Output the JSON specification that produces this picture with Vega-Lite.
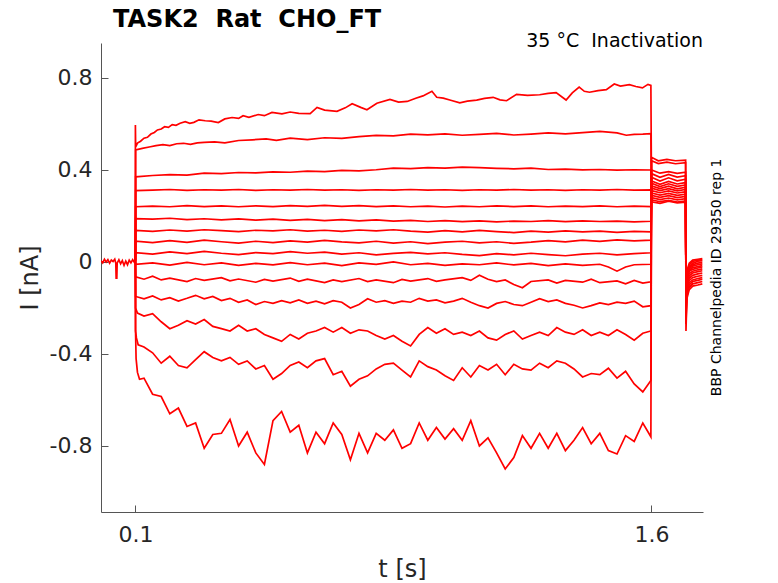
{
  "$schema": "https://vega.github.io/schema/vega-lite/v6.json",
  "width": 602,
  "height": 469,
  "autosize": {"type": "none"},
  "padding": {"left": 101, "top": 43, "right": 75, "bottom": 71},
  "background": "white",
  "config": {
    "view": {"stroke": null},
    "font": "DejaVu Sans",
    "axis": {
      "grid": false,
      "domainColor": "#555555",
      "tickColor": "#555555",
      "tickSize": -7,
      "labelFont": "DejaVu Sans",
      "labelFontSize": 22,
      "labelColor": "#262626",
      "titleFont": "DejaVu Sans",
      "titleFontSize": 24,
      "titleFontWeight": "normal",
      "titleColor": "#262626"
    }
  },
  "encoding": {
    "x": {
      "field": "t",
      "type": "quantitative",
      "scale": {"domain": [0, 1.75], "nice": false, "zero": false},
      "axis": {
        "values": [0.1, 1.6],
        "format": ".1f",
        "labelPadding": 19,
        "title": "t [s]",
        "titleBaseline": "alphabetic",
        "titleY": 64
      }
    },
    "y": {
      "field": "i",
      "type": "quantitative",
      "scale": {"domain": [-1.087, 0.952], "nice": false, "zero": false},
      "axis": {
        "values": [-0.8, -0.4, 0, 0.4, 0.8],
        "labelExpr": "datum.value == 0 ? '0' : replace(format(datum.value, '.1f'), '−', '-')",
        "labelPadding": 16,
        "title": "I [nA]",
        "titleBaseline": "alphabetic",
        "titleX": -64
      }
    }
  },
  "layer": [
    {
      "data": {"values": [
        {"s":0,"t":0,"i":0.005},{"s":0,"t":0.005,"i":-0.004},{"s":0,"t":0.01,"i":0.012},{"s":0,"t":0.015,"i":0.0},{"s":0,"t":0.02,"i":0.01},{"s":0,"t":0.025,"i":-0.005},{"s":0,"t":0.03,"i":0.008},{"s":0,"t":0.035,"i":0.002},{"s":0,"t":0.04,"i":0.012},{"s":0,"t":0.043,"i":-0.005},{"s":0,"t":0.044,"i":-0.07},{"s":0,"t":0.046,"i":-0.07},{"s":0,"t":0.047,"i":-0.005},{"s":0,"t":0.052,"i":0.01},{"s":0,"t":0.057,"i":-0.008},{"s":0,"t":0.062,"i":0.006},{"s":0,"t":0.067,"i":-0.015},{"s":0,"t":0.072,"i":0.004},{"s":0,"t":0.077,"i":-0.012},{"s":0,"t":0.082,"i":0.008},{"s":0,"t":0.087,"i":-0.004},{"s":0,"t":0.092,"i":0.01},{"s":0,"t":0.097,"i":-0.002},{"s":0,"t":0.1,"i":0.005},

        {"s":1,"t":0.1,"i":0.005},{"s":1,"t":0.1,"i":0.595},{"s":1,"t":0.1008,"i":0.5},{"s":1,"t":0.106,"i":0.517},{"s":1,"t":0.115,"i":0.525},{"s":1,"t":0.125,"i":0.538},{"s":1,"t":0.135,"i":0.542},{"s":1,"t":0.145,"i":0.556},{"s":1,"t":0.155,"i":0.563},{"s":1,"t":0.164,"i":0.574},{"s":1,"t":0.175,"i":0.578},{"s":1,"t":0.185,"i":0.588},{"s":1,"t":0.196,"i":0.585},{"s":1,"t":0.207,"i":0.597},{"s":1,"t":0.218,"i":0.594},{"s":1,"t":0.23,"i":0.603},{"s":1,"t":0.245,"i":0.61},{"s":1,"t":0.258,"i":0.603},{"s":1,"t":0.27,"i":0.607},{"s":1,"t":0.285,"i":0.618},{"s":1,"t":0.303,"i":0.614},{"s":1,"t":0.32,"i":0.612},{"s":1,"t":0.341,"i":0.606},{"s":1,"t":0.36,"i":0.622},{"s":1,"t":0.381,"i":0.628},{"s":1,"t":0.4,"i":0.624},{"s":1,"t":0.413,"i":0.636},{"s":1,"t":0.43,"i":0.629},{"s":1,"t":0.457,"i":0.641},{"s":1,"t":0.475,"i":0.636},{"s":1,"t":0.497,"i":0.65},{"s":1,"t":0.526,"i":0.644},{"s":1,"t":0.55,"i":0.652},{"s":1,"t":0.575,"i":0.646},{"s":1,"t":0.608,"i":0.645},{"s":1,"t":0.628,"i":0.672},{"s":1,"t":0.65,"i":0.66},{"s":1,"t":0.686,"i":0.655},{"s":1,"t":0.71,"i":0.67},{"s":1,"t":0.73,"i":0.688},{"s":1,"t":0.755,"i":0.672},{"s":1,"t":0.773,"i":0.662},{"s":1,"t":0.802,"i":0.69},{"s":1,"t":0.84,"i":0.707},{"s":1,"t":0.865,"i":0.695},{"s":1,"t":0.89,"i":0.698},{"s":1,"t":0.915,"i":0.712},{"s":1,"t":0.936,"i":0.722},{"s":1,"t":0.962,"i":0.742},{"s":1,"t":0.976,"i":0.716},{"s":1,"t":0.995,"i":0.712},{"s":1,"t":1.014,"i":0.704},{"s":1,"t":1.043,"i":0.692},{"s":1,"t":1.065,"i":0.699},{"s":1,"t":1.092,"i":0.704},{"s":1,"t":1.115,"i":0.711},{"s":1,"t":1.14,"i":0.716},{"s":1,"t":1.16,"i":0.705},{"s":1,"t":1.179,"i":0.701},{"s":1,"t":1.208,"i":0.729},{"s":1,"t":1.24,"i":0.724},{"s":1,"t":1.275,"i":0.727},{"s":1,"t":1.3,"i":0.733},{"s":1,"t":1.323,"i":0.736},{"s":1,"t":1.352,"i":0.704},{"s":1,"t":1.37,"i":0.735},{"s":1,"t":1.39,"i":0.76},{"s":1,"t":1.405,"i":0.742},{"s":1,"t":1.42,"i":0.738},{"s":1,"t":1.445,"i":0.745},{"s":1,"t":1.469,"i":0.749},{"s":1,"t":1.492,"i":0.774},{"s":1,"t":1.51,"i":0.765},{"s":1,"t":1.536,"i":0.771},{"s":1,"t":1.555,"i":0.763},{"s":1,"t":1.574,"i":0.757},{"s":1,"t":1.59,"i":0.772},{"s":1,"t":1.5985,"i":0.768},
        {"s":1,"t":1.6005,"i":0.262},{"s":1,"t":1.625,"i":0.255},{"s":1,"t":1.65,"i":0.264},{"s":1,"t":1.675,"i":0.257},{"s":1,"t":1.6995,"i":0.26},
        {"s":1,"t":1.7005,"i":-0.09},{"s":1,"t":1.703,"i":-0.04},{"s":1,"t":1.71,"i":-0.005},{"s":1,"t":1.72,"i":0.008},{"s":1,"t":1.735,"i":0.012},{"s":1,"t":1.748,"i":0.015},

        {"s":2,"t":0.1,"i":0.005},{"s":2,"t":0.1008,"i":0.487},{"s":2,"t":0.12,"i":0.494},{"s":2,"t":0.14,"i":0.5},{"s":2,"t":0.16,"i":0.506},{"s":2,"t":0.18,"i":0.51},{"s":2,"t":0.2,"i":0.506},{"s":2,"t":0.22,"i":0.514},{"s":2,"t":0.24,"i":0.516},{"s":2,"t":0.26,"i":0.511},{"s":2,"t":0.28,"i":0.518},{"s":2,"t":0.3,"i":0.52},{"s":2,"t":0.33,"i":0.522},{"s":2,"t":0.36,"i":0.518},{"s":2,"t":0.4,"i":0.528},{"s":2,"t":0.44,"i":0.531},{"s":2,"t":0.48,"i":0.535},{"s":2,"t":0.51,"i":0.529},{"s":2,"t":0.55,"i":0.538},{"s":2,"t":0.6,"i":0.532},{"s":2,"t":0.65,"i":0.54},{"s":2,"t":0.7,"i":0.537},{"s":2,"t":0.75,"i":0.545},{"s":2,"t":0.8,"i":0.55},{"s":2,"t":0.85,"i":0.548},{"s":2,"t":0.9,"i":0.556},{"s":2,"t":0.95,"i":0.553},{"s":2,"t":1.0,"i":0.557},{"s":2,"t":1.05,"i":0.551},{"s":2,"t":1.1,"i":0.555},{"s":2,"t":1.15,"i":0.559},{"s":2,"t":1.2,"i":0.552},{"s":2,"t":1.25,"i":0.556},{"s":2,"t":1.3,"i":0.561},{"s":2,"t":1.35,"i":0.557},{"s":2,"t":1.4,"i":0.562},{"s":2,"t":1.45,"i":0.568},{"s":2,"t":1.5,"i":0.561},{"s":2,"t":1.527,"i":0.551},{"s":2,"t":1.55,"i":0.555},{"s":2,"t":1.575,"i":0.556},{"s":2,"t":1.5985,"i":0.558},
        {"s":2,"t":1.6005,"i":0.27},{"s":2,"t":1.625,"i":0.262},{"s":2,"t":1.65,"i":0.268},{"s":2,"t":1.675,"i":0.26},{"s":2,"t":1.6995,"i":0.265},
        {"s":2,"t":1.7005,"i":-0.1},{"s":2,"t":1.703,"i":-0.05},{"s":2,"t":1.71,"i":-0.012},{"s":2,"t":1.72,"i":0.002},{"s":2,"t":1.735,"i":0.008},{"s":2,"t":1.748,"i":0.01},

        {"s":3,"t":0.1,"i":0.005},{"s":3,"t":0.1008,"i":0.37},{"s":3,"t":0.15,"i":0.376},{"s":3,"t":0.2,"i":0.38},{"s":3,"t":0.25,"i":0.378},{"s":3,"t":0.3,"i":0.386},{"s":3,"t":0.35,"i":0.384},{"s":3,"t":0.4,"i":0.389},{"s":3,"t":0.45,"i":0.387},{"s":3,"t":0.5,"i":0.392},{"s":3,"t":0.55,"i":0.39},{"s":3,"t":0.6,"i":0.395},{"s":3,"t":0.65,"i":0.393},{"s":3,"t":0.7,"i":0.398},{"s":3,"t":0.75,"i":0.396},{"s":3,"t":0.8,"i":0.401},{"s":3,"t":0.85,"i":0.408},{"s":3,"t":0.9,"i":0.406},{"s":3,"t":0.95,"i":0.41},{"s":3,"t":1.0,"i":0.408},{"s":3,"t":1.05,"i":0.412},{"s":3,"t":1.1,"i":0.41},{"s":3,"t":1.15,"i":0.407},{"s":3,"t":1.2,"i":0.405},{"s":3,"t":1.25,"i":0.408},{"s":3,"t":1.3,"i":0.402},{"s":3,"t":1.35,"i":0.404},{"s":3,"t":1.4,"i":0.4},{"s":3,"t":1.45,"i":0.402},{"s":3,"t":1.5,"i":0.399},{"s":3,"t":1.55,"i":0.401},{"s":3,"t":1.5985,"i":0.4},
        {"s":3,"t":1.6005,"i":0.28},{"s":3,"t":1.625,"i":0.271},{"s":3,"t":1.65,"i":0.278},{"s":3,"t":1.675,"i":0.27},{"s":3,"t":1.6995,"i":0.275},
        {"s":3,"t":1.7005,"i":-0.11},{"s":3,"t":1.703,"i":-0.058},{"s":3,"t":1.71,"i":-0.02},{"s":3,"t":1.72,"i":-0.006},{"s":3,"t":1.735,"i":0.003},{"s":3,"t":1.748,"i":0.006},

        {"s":4,"t":0.1,"i":0.005},{"s":4,"t":0.1008,"i":0.31},{"s":4,"t":0.15,"i":0.312},{"s":4,"t":0.2,"i":0.315},{"s":4,"t":0.25,"i":0.311},{"s":4,"t":0.3,"i":0.314},{"s":4,"t":0.35,"i":0.312},{"s":4,"t":0.4,"i":0.315},{"s":4,"t":0.45,"i":0.311},{"s":4,"t":0.5,"i":0.314},{"s":4,"t":0.55,"i":0.312},{"s":4,"t":0.6,"i":0.315},{"s":4,"t":0.65,"i":0.312},{"s":4,"t":0.7,"i":0.314},{"s":4,"t":0.75,"i":0.311},{"s":4,"t":0.8,"i":0.314},{"s":4,"t":0.85,"i":0.312},{"s":4,"t":0.9,"i":0.315},{"s":4,"t":0.95,"i":0.312},{"s":4,"t":1.0,"i":0.314},{"s":4,"t":1.05,"i":0.311},{"s":4,"t":1.1,"i":0.314},{"s":4,"t":1.15,"i":0.312},{"s":4,"t":1.2,"i":0.315},{"s":4,"t":1.25,"i":0.312},{"s":4,"t":1.3,"i":0.314},{"s":4,"t":1.35,"i":0.311},{"s":4,"t":1.4,"i":0.314},{"s":4,"t":1.45,"i":0.312},{"s":4,"t":1.5,"i":0.315},{"s":4,"t":1.55,"i":0.312},{"s":4,"t":1.5985,"i":0.313},
        {"s":4,"t":1.6005,"i":0.29},{"s":4,"t":1.625,"i":0.281},{"s":4,"t":1.65,"i":0.288},{"s":4,"t":1.675,"i":0.28},{"s":4,"t":1.6995,"i":0.285},
        {"s":4,"t":1.7005,"i":-0.12},{"s":4,"t":1.703,"i":-0.065},{"s":4,"t":1.71,"i":-0.025},{"s":4,"t":1.72,"i":-0.012},{"s":4,"t":1.735,"i":-0.005},{"s":4,"t":1.748,"i":-0.002},

        {"s":5,"t":0.1,"i":0.005},{"s":5,"t":0.1008,"i":0.24},{"s":5,"t":0.15,"i":0.243},{"s":5,"t":0.2,"i":0.24},{"s":5,"t":0.25,"i":0.245},{"s":5,"t":0.3,"i":0.241},{"s":5,"t":0.35,"i":0.244},{"s":5,"t":0.4,"i":0.24},{"s":5,"t":0.45,"i":0.244},{"s":5,"t":0.5,"i":0.241},{"s":5,"t":0.55,"i":0.245},{"s":5,"t":0.6,"i":0.242},{"s":5,"t":0.65,"i":0.246},{"s":5,"t":0.7,"i":0.242},{"s":5,"t":0.75,"i":0.245},{"s":5,"t":0.8,"i":0.241},{"s":5,"t":0.85,"i":0.244},{"s":5,"t":0.9,"i":0.24},{"s":5,"t":0.95,"i":0.243},{"s":5,"t":1.0,"i":0.239},{"s":5,"t":1.05,"i":0.243},{"s":5,"t":1.1,"i":0.24},{"s":5,"t":1.15,"i":0.244},{"s":5,"t":1.2,"i":0.241},{"s":5,"t":1.25,"i":0.244},{"s":5,"t":1.3,"i":0.24},{"s":5,"t":1.35,"i":0.243},{"s":5,"t":1.4,"i":0.241},{"s":5,"t":1.45,"i":0.244},{"s":5,"t":1.5,"i":0.24},{"s":5,"t":1.55,"i":0.243},{"s":5,"t":1.5985,"i":0.241},
        {"s":5,"t":1.6005,"i":0.3},{"s":5,"t":1.625,"i":0.291},{"s":5,"t":1.65,"i":0.298},{"s":5,"t":1.675,"i":0.29},{"s":5,"t":1.6995,"i":0.295},
        {"s":5,"t":1.7005,"i":-0.13},{"s":5,"t":1.703,"i":-0.07},{"s":5,"t":1.71,"i":-0.03},{"s":5,"t":1.72,"i":-0.018},{"s":5,"t":1.735,"i":-0.012},{"s":5,"t":1.748,"i":-0.008},

        {"s":6,"t":0.1,"i":0.005},{"s":6,"t":0.1008,"i":0.188},{"s":6,"t":0.15,"i":0.186},{"s":6,"t":0.2,"i":0.19},{"s":6,"t":0.25,"i":0.184},{"s":6,"t":0.3,"i":0.188},{"s":6,"t":0.35,"i":0.183},{"s":6,"t":0.4,"i":0.187},{"s":6,"t":0.45,"i":0.182},{"s":6,"t":0.5,"i":0.186},{"s":6,"t":0.55,"i":0.181},{"s":6,"t":0.6,"i":0.185},{"s":6,"t":0.65,"i":0.18},{"s":6,"t":0.7,"i":0.184},{"s":6,"t":0.75,"i":0.179},{"s":6,"t":0.8,"i":0.183},{"s":6,"t":0.85,"i":0.178},{"s":6,"t":0.9,"i":0.181},{"s":6,"t":0.95,"i":0.176},{"s":6,"t":1.0,"i":0.18},{"s":6,"t":1.05,"i":0.175},{"s":6,"t":1.1,"i":0.179},{"s":6,"t":1.15,"i":0.174},{"s":6,"t":1.2,"i":0.178},{"s":6,"t":1.25,"i":0.176},{"s":6,"t":1.3,"i":0.18},{"s":6,"t":1.35,"i":0.175},{"s":6,"t":1.4,"i":0.179},{"s":6,"t":1.45,"i":0.176},{"s":6,"t":1.5,"i":0.178},{"s":6,"t":1.55,"i":0.174},{"s":6,"t":1.5985,"i":0.177},
        {"s":6,"t":1.6005,"i":0.31},{"s":6,"t":1.625,"i":0.301},{"s":6,"t":1.65,"i":0.309},{"s":6,"t":1.675,"i":0.3},{"s":6,"t":1.6995,"i":0.305},
        {"s":6,"t":1.7005,"i":-0.14},{"s":6,"t":1.703,"i":-0.075},{"s":6,"t":1.71,"i":-0.035},{"s":6,"t":1.72,"i":-0.025},{"s":6,"t":1.735,"i":-0.02},{"s":6,"t":1.748,"i":-0.016},

        {"s":7,"t":0.1,"i":0.005},{"s":7,"t":0.1008,"i":0.137},{"s":7,"t":0.15,"i":0.133},{"s":7,"t":0.2,"i":0.139},{"s":7,"t":0.25,"i":0.134},{"s":7,"t":0.3,"i":0.14},{"s":7,"t":0.35,"i":0.136},{"s":7,"t":0.4,"i":0.132},{"s":7,"t":0.45,"i":0.138},{"s":7,"t":0.5,"i":0.135},{"s":7,"t":0.55,"i":0.14},{"s":7,"t":0.6,"i":0.134},{"s":7,"t":0.65,"i":0.138},{"s":7,"t":0.7,"i":0.133},{"s":7,"t":0.75,"i":0.139},{"s":7,"t":0.8,"i":0.135},{"s":7,"t":0.85,"i":0.14},{"s":7,"t":0.9,"i":0.134},{"s":7,"t":0.95,"i":0.13},{"s":7,"t":1.0,"i":0.136},{"s":7,"t":1.05,"i":0.131},{"s":7,"t":1.1,"i":0.137},{"s":7,"t":1.15,"i":0.132},{"s":7,"t":1.2,"i":0.128},{"s":7,"t":1.25,"i":0.134},{"s":7,"t":1.3,"i":0.13},{"s":7,"t":1.35,"i":0.135},{"s":7,"t":1.4,"i":0.131},{"s":7,"t":1.45,"i":0.134},{"s":7,"t":1.5,"i":0.129},{"s":7,"t":1.55,"i":0.133},{"s":7,"t":1.5985,"i":0.131},
        {"s":7,"t":1.6005,"i":0.321},{"s":7,"t":1.625,"i":0.31},{"s":7,"t":1.65,"i":0.319},{"s":7,"t":1.675,"i":0.309},{"s":7,"t":1.6995,"i":0.315},
        {"s":7,"t":1.7005,"i":-0.15},{"s":7,"t":1.703,"i":-0.08},{"s":7,"t":1.71,"i":-0.04},{"s":7,"t":1.72,"i":-0.032},{"s":7,"t":1.735,"i":-0.026},{"s":7,"t":1.748,"i":-0.022},

        {"s":8,"t":0.1,"i":0.005},{"s":8,"t":0.1008,"i":0.09},{"s":8,"t":0.15,"i":0.084},{"s":8,"t":0.2,"i":0.093},{"s":8,"t":0.25,"i":0.085},{"s":8,"t":0.3,"i":0.095},{"s":8,"t":0.35,"i":0.088},{"s":8,"t":0.4,"i":0.082},{"s":8,"t":0.45,"i":0.09},{"s":8,"t":0.5,"i":0.084},{"s":8,"t":0.55,"i":0.092},{"s":8,"t":0.6,"i":0.086},{"s":8,"t":0.65,"i":0.094},{"s":8,"t":0.7,"i":0.087},{"s":8,"t":0.75,"i":0.083},{"s":8,"t":0.8,"i":0.09},{"s":8,"t":0.85,"i":0.082},{"s":8,"t":0.9,"i":0.088},{"s":8,"t":0.95,"i":0.08},{"s":8,"t":1.0,"i":0.086},{"s":8,"t":1.05,"i":0.09},{"s":8,"t":1.1,"i":0.083},{"s":8,"t":1.15,"i":0.088},{"s":8,"t":1.2,"i":0.081},{"s":8,"t":1.25,"i":0.086},{"s":8,"t":1.3,"i":0.093},{"s":8,"t":1.35,"i":0.087},{"s":8,"t":1.4,"i":0.095},{"s":8,"t":1.45,"i":0.09},{"s":8,"t":1.5,"i":0.096},{"s":8,"t":1.55,"i":0.092},{"s":8,"t":1.5985,"i":0.095},
        {"s":8,"t":1.6005,"i":0.331},{"s":8,"t":1.625,"i":0.319},{"s":8,"t":1.65,"i":0.33},{"s":8,"t":1.675,"i":0.318},{"s":8,"t":1.6995,"i":0.325},
        {"s":8,"t":1.7005,"i":-0.16},{"s":8,"t":1.703,"i":-0.09},{"s":8,"t":1.71,"i":-0.05},{"s":8,"t":1.72,"i":-0.04},{"s":8,"t":1.735,"i":-0.034},{"s":8,"t":1.748,"i":-0.03},

        {"s":9,"t":0.1,"i":0.005},{"s":9,"t":0.1008,"i":0.04},{"s":9,"t":0.15,"i":0.034},{"s":9,"t":0.2,"i":0.044},{"s":9,"t":0.25,"i":0.036},{"s":9,"t":0.3,"i":0.046},{"s":9,"t":0.35,"i":0.038},{"s":9,"t":0.4,"i":0.032},{"s":9,"t":0.45,"i":0.041},{"s":9,"t":0.5,"i":0.036},{"s":9,"t":0.55,"i":0.045},{"s":9,"t":0.6,"i":0.038},{"s":9,"t":0.65,"i":0.043},{"s":9,"t":0.7,"i":0.034},{"s":9,"t":0.75,"i":0.04},{"s":9,"t":0.8,"i":0.031},{"s":9,"t":0.85,"i":0.037},{"s":9,"t":0.9,"i":0.042},{"s":9,"t":0.95,"i":0.035},{"s":9,"t":1.0,"i":0.04},{"s":9,"t":1.05,"i":0.033},{"s":9,"t":1.1,"i":0.028},{"s":9,"t":1.15,"i":0.036},{"s":9,"t":1.2,"i":0.031},{"s":9,"t":1.25,"i":0.038},{"s":9,"t":1.3,"i":0.032},{"s":9,"t":1.35,"i":0.027},{"s":9,"t":1.4,"i":0.034},{"s":9,"t":1.45,"i":0.038},{"s":9,"t":1.5,"i":0.031},{"s":9,"t":1.55,"i":0.036},{"s":9,"t":1.5985,"i":0.04},
        {"s":9,"t":1.6005,"i":0.342},{"s":9,"t":1.625,"i":0.328},{"s":9,"t":1.65,"i":0.34},{"s":9,"t":1.675,"i":0.329},{"s":9,"t":1.6995,"i":0.335},
        {"s":9,"t":1.7005,"i":-0.17},{"s":9,"t":1.703,"i":-0.1},{"s":9,"t":1.71,"i":-0.06},{"s":9,"t":1.72,"i":-0.048},{"s":9,"t":1.735,"i":-0.042},{"s":9,"t":1.748,"i":-0.038},

        {"s":10,"t":0.1,"i":0.005},{"s":10,"t":0.1008,"i":-0.01},{"s":10,"t":0.15,"i":-0.004},{"s":10,"t":0.2,"i":-0.014},{"s":10,"t":0.25,"i":-0.002},{"s":10,"t":0.3,"i":-0.012},{"s":10,"t":0.35,"i":-0.004},{"s":10,"t":0.4,"i":-0.015},{"s":10,"t":0.45,"i":-0.006},{"s":10,"t":0.5,"i":-0.013},{"s":10,"t":0.55,"i":-0.003},{"s":10,"t":0.6,"i":-0.012},{"s":10,"t":0.65,"i":-0.005},{"s":10,"t":0.7,"i":-0.016},{"s":10,"t":0.75,"i":-0.004},{"s":10,"t":0.8,"i":-0.01},{"s":10,"t":0.85,"i":0.0},{"s":10,"t":0.9,"i":-0.012},{"s":10,"t":0.95,"i":-0.006},{"s":10,"t":1.0,"i":-0.015},{"s":10,"t":1.05,"i":-0.008},{"s":10,"t":1.1,"i":-0.012},{"s":10,"t":1.15,"i":-0.004},{"s":10,"t":1.2,"i":-0.013},{"s":10,"t":1.25,"i":-0.006},{"s":10,"t":1.3,"i":-0.016},{"s":10,"t":1.35,"i":-0.008},{"s":10,"t":1.4,"i":-0.015},{"s":10,"t":1.45,"i":-0.01},{"s":10,"t":1.475,"i":-0.022},{"s":10,"t":1.5,"i":-0.04},{"s":10,"t":1.525,"i":-0.022},{"s":10,"t":1.55,"i":-0.012},{"s":10,"t":1.5985,"i":-0.01},
        {"s":10,"t":1.6005,"i":0.352},{"s":10,"t":1.625,"i":0.338},{"s":10,"t":1.65,"i":0.35},{"s":10,"t":1.675,"i":0.339},{"s":10,"t":1.6995,"i":0.345},
        {"s":10,"t":1.7005,"i":-0.19},{"s":10,"t":1.703,"i":-0.11},{"s":10,"t":1.71,"i":-0.07},{"s":10,"t":1.72,"i":-0.058},{"s":10,"t":1.735,"i":-0.052},{"s":10,"t":1.748,"i":-0.048},

        {"s":11,"t":0.1,"i":0.005},{"s":11,"t":0.1008,"i":-0.065},{"s":11,"t":0.125,"i":-0.075},{"s":11,"t":0.15,"i":-0.062},{"s":11,"t":0.175,"i":-0.078},{"s":11,"t":0.2,"i":-0.07},{"s":11,"t":0.25,"i":-0.085},{"s":11,"t":0.275,"i":-0.072},{"s":11,"t":0.3,"i":-0.08},{"s":11,"t":0.35,"i":-0.068},{"s":11,"t":0.375,"i":-0.082},{"s":11,"t":0.4,"i":-0.074},{"s":11,"t":0.45,"i":-0.088},{"s":11,"t":0.475,"i":-0.076},{"s":11,"t":0.5,"i":-0.083},{"s":11,"t":0.55,"i":-0.07},{"s":11,"t":0.575,"i":-0.084},{"s":11,"t":0.6,"i":-0.075},{"s":11,"t":0.65,"i":-0.09},{"s":11,"t":0.675,"i":-0.078},{"s":11,"t":0.7,"i":-0.085},{"s":11,"t":0.75,"i":-0.072},{"s":11,"t":0.775,"i":-0.085},{"s":11,"t":0.8,"i":-0.078},{"s":11,"t":0.85,"i":-0.09},{"s":11,"t":0.875,"i":-0.076},{"s":11,"t":0.9,"i":-0.083},{"s":11,"t":0.95,"i":-0.072},{"s":11,"t":0.975,"i":-0.084},{"s":11,"t":1.0,"i":-0.078},{"s":11,"t":1.05,"i":-0.068},{"s":11,"t":1.075,"i":-0.08},{"s":11,"t":1.1,"i":-0.058},{"s":11,"t":1.125,"i":-0.075},{"s":11,"t":1.15,"i":-0.085},{"s":11,"t":1.175,"i":-0.078},{"s":11,"t":1.2,"i":-0.098},{"s":11,"t":1.225,"i":-0.112},{"s":11,"t":1.25,"i":-0.085},{"s":11,"t":1.3,"i":-0.078},{"s":11,"t":1.325,"i":-0.092},{"s":11,"t":1.35,"i":-0.08},{"s":11,"t":1.4,"i":-0.088},{"s":11,"t":1.425,"i":-0.075},{"s":11,"t":1.45,"i":-0.09},{"s":11,"t":1.5,"i":-0.082},{"s":11,"t":1.525,"i":-0.095},{"s":11,"t":1.55,"i":-0.08},{"s":11,"t":1.575,"i":-0.092},{"s":11,"t":1.5985,"i":-0.086},
        {"s":11,"t":1.6005,"i":0.368},{"s":11,"t":1.625,"i":0.352},{"s":11,"t":1.65,"i":0.366},{"s":11,"t":1.675,"i":0.353},{"s":11,"t":1.6995,"i":0.36},
        {"s":11,"t":1.7005,"i":-0.21},{"s":11,"t":1.703,"i":-0.12},{"s":11,"t":1.71,"i":-0.08},{"s":11,"t":1.72,"i":-0.068},{"s":11,"t":1.735,"i":-0.062},{"s":11,"t":1.748,"i":-0.058},

        {"s":12,"t":0.1,"i":0.005},{"s":12,"t":0.1008,"i":-0.15},{"s":12,"t":0.125,"i":-0.16},{"s":12,"t":0.15,"i":-0.148},{"s":12,"t":0.175,"i":-0.165},{"s":12,"t":0.2,"i":-0.155},{"s":12,"t":0.225,"i":-0.17},{"s":12,"t":0.25,"i":-0.158},{"s":12,"t":0.275,"i":-0.145},{"s":12,"t":0.3,"i":-0.16},{"s":12,"t":0.325,"i":-0.15},{"s":12,"t":0.35,"i":-0.168},{"s":12,"t":0.375,"i":-0.158},{"s":12,"t":0.4,"i":-0.175},{"s":12,"t":0.425,"i":-0.165},{"s":12,"t":0.45,"i":-0.185},{"s":12,"t":0.475,"i":-0.172},{"s":12,"t":0.5,"i":-0.18},{"s":12,"t":0.525,"i":-0.168},{"s":12,"t":0.55,"i":-0.178},{"s":12,"t":0.575,"i":-0.165},{"s":12,"t":0.6,"i":-0.18},{"s":12,"t":0.625,"i":-0.17},{"s":12,"t":0.65,"i":-0.182},{"s":12,"t":0.675,"i":-0.168},{"s":12,"t":0.7,"i":-0.175},{"s":12,"t":0.725,"i":-0.2},{"s":12,"t":0.75,"i":-0.185},{"s":12,"t":0.775,"i":-0.16},{"s":12,"t":0.8,"i":-0.175},{"s":12,"t":0.825,"i":-0.168},{"s":12,"t":0.85,"i":-0.18},{"s":12,"t":0.875,"i":-0.17},{"s":12,"t":0.9,"i":-0.175},{"s":12,"t":0.925,"i":-0.158},{"s":12,"t":0.95,"i":-0.17},{"s":12,"t":0.975,"i":-0.165},{"s":12,"t":1.0,"i":-0.178},{"s":12,"t":1.025,"i":-0.17},{"s":12,"t":1.05,"i":-0.158},{"s":12,"t":1.075,"i":-0.175},{"s":12,"t":1.1,"i":-0.19},{"s":12,"t":1.125,"i":-0.2},{"s":12,"t":1.15,"i":-0.18},{"s":12,"t":1.175,"i":-0.172},{"s":12,"t":1.2,"i":-0.185},{"s":12,"t":1.225,"i":-0.19},{"s":12,"t":1.25,"i":-0.175},{"s":12,"t":1.275,"i":-0.16},{"s":12,"t":1.3,"i":-0.172},{"s":12,"t":1.325,"i":-0.165},{"s":12,"t":1.35,"i":-0.18},{"s":12,"t":1.375,"i":-0.188},{"s":12,"t":1.4,"i":-0.2},{"s":12,"t":1.425,"i":-0.19},{"s":12,"t":1.45,"i":-0.178},{"s":12,"t":1.475,"i":-0.185},{"s":12,"t":1.5,"i":-0.175},{"s":12,"t":1.525,"i":-0.18},{"s":12,"t":1.55,"i":-0.17},{"s":12,"t":1.575,"i":-0.195},{"s":12,"t":1.5985,"i":-0.19},
        {"s":12,"t":1.6005,"i":0.384},{"s":12,"t":1.625,"i":0.368},{"s":12,"t":1.65,"i":0.381},{"s":12,"t":1.675,"i":0.369},{"s":12,"t":1.6995,"i":0.375},
        {"s":12,"t":1.7005,"i":-0.23},{"s":12,"t":1.703,"i":-0.13},{"s":12,"t":1.71,"i":-0.09},{"s":12,"t":1.72,"i":-0.078},{"s":12,"t":1.735,"i":-0.072},{"s":12,"t":1.748,"i":-0.068},

        {"s":13,"t":0.1,"i":0.005},{"s":13,"t":0.1004,"i":-0.2},{"s":13,"t":0.106,"i":-0.222},{"s":13,"t":0.125,"i":-0.235},{"s":13,"t":0.15,"i":-0.225},{"s":13,"t":0.175,"i":-0.26},{"s":13,"t":0.2,"i":-0.29},{"s":13,"t":0.225,"i":-0.275},{"s":13,"t":0.25,"i":-0.255},{"s":13,"t":0.275,"i":-0.27},{"s":13,"t":0.3,"i":-0.25},{"s":13,"t":0.325,"i":-0.28},{"s":13,"t":0.35,"i":-0.29},{"s":13,"t":0.375,"i":-0.3},{"s":13,"t":0.4,"i":-0.275},{"s":13,"t":0.425,"i":-0.3},{"s":13,"t":0.45,"i":-0.29},{"s":13,"t":0.475,"i":-0.315},{"s":13,"t":0.5,"i":-0.33},{"s":13,"t":0.525,"i":-0.345},{"s":13,"t":0.55,"i":-0.315},{"s":13,"t":0.575,"i":-0.335},{"s":13,"t":0.6,"i":-0.31},{"s":13,"t":0.625,"i":-0.3},{"s":13,"t":0.65,"i":-0.285},{"s":13,"t":0.675,"i":-0.305},{"s":13,"t":0.7,"i":-0.285},{"s":13,"t":0.725,"i":-0.31},{"s":13,"t":0.75,"i":-0.295},{"s":13,"t":0.775,"i":-0.3},{"s":13,"t":0.8,"i":-0.32},{"s":13,"t":0.825,"i":-0.335},{"s":13,"t":0.85,"i":-0.32},{"s":13,"t":0.875,"i":-0.345},{"s":13,"t":0.9,"i":-0.365},{"s":13,"t":0.925,"i":-0.315},{"s":13,"t":0.95,"i":-0.285},{"s":13,"t":0.975,"i":-0.31},{"s":13,"t":1.0,"i":-0.29},{"s":13,"t":1.025,"i":-0.315},{"s":13,"t":1.05,"i":-0.305},{"s":13,"t":1.075,"i":-0.32},{"s":13,"t":1.1,"i":-0.3},{"s":13,"t":1.125,"i":-0.33},{"s":13,"t":1.15,"i":-0.34},{"s":13,"t":1.175,"i":-0.315},{"s":13,"t":1.2,"i":-0.3},{"s":13,"t":1.225,"i":-0.335},{"s":13,"t":1.25,"i":-0.32},{"s":13,"t":1.275,"i":-0.305},{"s":13,"t":1.3,"i":-0.32},{"s":13,"t":1.325,"i":-0.285},{"s":13,"t":1.35,"i":-0.305},{"s":13,"t":1.375,"i":-0.315},{"s":13,"t":1.4,"i":-0.295},{"s":13,"t":1.425,"i":-0.32},{"s":13,"t":1.45,"i":-0.305},{"s":13,"t":1.475,"i":-0.32},{"s":13,"t":1.5,"i":-0.295},{"s":13,"t":1.525,"i":-0.315},{"s":13,"t":1.55,"i":-0.34},{"s":13,"t":1.575,"i":-0.31},{"s":13,"t":1.5985,"i":-0.3},
        {"s":13,"t":1.6005,"i":0.4},{"s":13,"t":1.625,"i":0.386},{"s":13,"t":1.65,"i":0.393},{"s":13,"t":1.675,"i":0.385},{"s":13,"t":1.6995,"i":0.39},
        {"s":13,"t":1.7005,"i":-0.25},{"s":13,"t":1.703,"i":-0.14},{"s":13,"t":1.71,"i":-0.1},{"s":13,"t":1.72,"i":-0.085},{"s":13,"t":1.735,"i":-0.08},{"s":13,"t":1.748,"i":-0.075},

        {"s":14,"t":0.1,"i":0.005},{"s":14,"t":0.1004,"i":-0.3},{"s":14,"t":0.103,"i":-0.33},{"s":14,"t":0.108,"i":-0.36},{"s":14,"t":0.125,"i":-0.37},{"s":14,"t":0.15,"i":-0.395},{"s":14,"t":0.175,"i":-0.44},{"s":14,"t":0.2,"i":-0.41},{"s":14,"t":0.225,"i":-0.45},{"s":14,"t":0.25,"i":-0.46},{"s":14,"t":0.275,"i":-0.425},{"s":14,"t":0.3,"i":-0.39},{"s":14,"t":0.325,"i":-0.415},{"s":14,"t":0.35,"i":-0.43},{"s":14,"t":0.375,"i":-0.415},{"s":14,"t":0.4,"i":-0.445},{"s":14,"t":0.425,"i":-0.43},{"s":14,"t":0.45,"i":-0.465},{"s":14,"t":0.475,"i":-0.45},{"s":14,"t":0.5,"i":-0.51},{"s":14,"t":0.525,"i":-0.485},{"s":14,"t":0.55,"i":-0.45},{"s":14,"t":0.575,"i":-0.435},{"s":14,"t":0.6,"i":-0.46},{"s":14,"t":0.625,"i":-0.43},{"s":14,"t":0.65,"i":-0.42},{"s":14,"t":0.675,"i":-0.49},{"s":14,"t":0.7,"i":-0.475},{"s":14,"t":0.725,"i":-0.54},{"s":14,"t":0.75,"i":-0.51},{"s":14,"t":0.775,"i":-0.495},{"s":14,"t":0.8,"i":-0.465},{"s":14,"t":0.825,"i":-0.445},{"s":14,"t":0.85,"i":-0.44},{"s":14,"t":0.875,"i":-0.47},{"s":14,"t":0.9,"i":-0.5},{"s":14,"t":0.925,"i":-0.43},{"s":14,"t":0.95,"i":-0.455},{"s":14,"t":0.975,"i":-0.47},{"s":14,"t":1.0,"i":-0.495},{"s":14,"t":1.025,"i":-0.515},{"s":14,"t":1.05,"i":-0.46},{"s":14,"t":1.075,"i":-0.5},{"s":14,"t":1.1,"i":-0.45},{"s":14,"t":1.125,"i":-0.47},{"s":14,"t":1.15,"i":-0.445},{"s":14,"t":1.175,"i":-0.49},{"s":14,"t":1.2,"i":-0.445},{"s":14,"t":1.225,"i":-0.465},{"s":14,"t":1.25,"i":-0.47},{"s":14,"t":1.275,"i":-0.44},{"s":14,"t":1.3,"i":-0.46},{"s":14,"t":1.325,"i":-0.43},{"s":14,"t":1.35,"i":-0.44},{"s":14,"t":1.375,"i":-0.465},{"s":14,"t":1.4,"i":-0.5},{"s":14,"t":1.425,"i":-0.485},{"s":14,"t":1.45,"i":-0.49},{"s":14,"t":1.475,"i":-0.462},{"s":14,"t":1.5,"i":-0.505},{"s":14,"t":1.525,"i":-0.475},{"s":14,"t":1.55,"i":-0.53},{"s":14,"t":1.575,"i":-0.565},{"s":14,"t":1.5985,"i":-0.515},
        {"s":14,"t":1.6005,"i":0.44},{"s":14,"t":1.62,"i":0.428},{"s":14,"t":1.645,"i":0.434},{"s":14,"t":1.67,"i":0.427},{"s":14,"t":1.6995,"i":0.432},
        {"s":14,"t":1.7005,"i":-0.27},{"s":14,"t":1.703,"i":-0.15},{"s":14,"t":1.71,"i":-0.11},{"s":14,"t":1.72,"i":-0.095},{"s":14,"t":1.735,"i":-0.09},{"s":14,"t":1.748,"i":-0.085},

        {"s":15,"t":0.1,"i":0.005},{"s":15,"t":0.1004,"i":-0.3},{"s":15,"t":0.102,"i":-0.42},{"s":15,"t":0.106,"i":-0.48},{"s":15,"t":0.112,"i":-0.51},{"s":15,"t":0.125,"i":-0.505},{"s":15,"t":0.15,"i":-0.575},{"s":15,"t":0.175,"i":-0.585},{"s":15,"t":0.2,"i":-0.66},{"s":15,"t":0.225,"i":-0.635},{"s":15,"t":0.25,"i":-0.715},{"s":15,"t":0.275,"i":-0.7},{"s":15,"t":0.3,"i":-0.81},{"s":15,"t":0.325,"i":-0.75},{"s":15,"t":0.35,"i":-0.745},{"s":15,"t":0.375,"i":-0.685},{"s":15,"t":0.4,"i":-0.8},{"s":15,"t":0.425,"i":-0.74},{"s":15,"t":0.45,"i":-0.83},{"s":15,"t":0.475,"i":-0.88},{"s":15,"t":0.5,"i":-0.69},{"s":15,"t":0.525,"i":-0.65},{"s":15,"t":0.55,"i":-0.74},{"s":15,"t":0.575,"i":-0.71},{"s":15,"t":0.6,"i":-0.83},{"s":15,"t":0.625,"i":-0.74},{"s":15,"t":0.65,"i":-0.79},{"s":15,"t":0.675,"i":-0.7},{"s":15,"t":0.7,"i":-0.75},{"s":15,"t":0.725,"i":-0.86},{"s":15,"t":0.75,"i":-0.745},{"s":15,"t":0.775,"i":-0.83},{"s":15,"t":0.8,"i":-0.745},{"s":15,"t":0.825,"i":-0.775},{"s":15,"t":0.85,"i":-0.73},{"s":15,"t":0.875,"i":-0.81},{"s":15,"t":0.9,"i":-0.79},{"s":15,"t":0.925,"i":-0.7},{"s":15,"t":0.95,"i":-0.775},{"s":15,"t":0.975,"i":-0.72},{"s":15,"t":1.0,"i":-0.77},{"s":15,"t":1.025,"i":-0.725},{"s":15,"t":1.05,"i":-0.775},{"s":15,"t":1.075,"i":-0.69},{"s":15,"t":1.1,"i":-0.8},{"s":15,"t":1.125,"i":-0.765},{"s":15,"t":1.15,"i":-0.83},{"s":15,"t":1.175,"i":-0.9},{"s":15,"t":1.2,"i":-0.85},{"s":15,"t":1.225,"i":-0.755},{"s":15,"t":1.25,"i":-0.81},{"s":15,"t":1.275,"i":-0.745},{"s":15,"t":1.3,"i":-0.81},{"s":15,"t":1.325,"i":-0.745},{"s":15,"t":1.35,"i":-0.82},{"s":15,"t":1.375,"i":-0.775},{"s":15,"t":1.4,"i":-0.72},{"s":15,"t":1.425,"i":-0.79},{"s":15,"t":1.45,"i":-0.745},{"s":15,"t":1.475,"i":-0.82},{"s":15,"t":1.5,"i":-0.835},{"s":15,"t":1.525,"i":-0.755},{"s":15,"t":1.55,"i":-0.78},{"s":15,"t":1.575,"i":-0.7},{"s":15,"t":1.5985,"i":-0.76},
        {"s":15,"t":1.6005,"i":0.455},{"s":15,"t":1.62,"i":0.44},{"s":15,"t":1.645,"i":0.446},{"s":15,"t":1.67,"i":0.44},{"s":15,"t":1.6995,"i":0.443},
        {"s":15,"t":1.7005,"i":-0.3},{"s":15,"t":1.703,"i":-0.16},{"s":15,"t":1.71,"i":-0.12},{"s":15,"t":1.72,"i":-0.105},{"s":15,"t":1.735,"i":-0.1},{"s":15,"t":1.748,"i":-0.095}
      ]},
      "mark": {"type": "line", "color": "#ff0000", "strokeWidth": 1.7, "clip": true},
      "encoding": {
        "detail": {"field": "s", "type": "nominal"},
        "order": {"value": null}
      }
    },
    {
      "data": {"values": [{"label": "TASK2\u00a0\u00a0Rat\u00a0\u00a0CHO_FT", "t": 0.035, "i": 1.022}]},
      "mark": {"type": "text", "align": "left", "baseline": "alphabetic", "font": "DejaVu Sans", "fontSize": 24, "fontWeight": "bold", "color": "black"},
      "encoding": {"text": {"field": "label"}}
    },
    {
      "data": {"values": [{"label": "35 °C\u00a0\u00a0Inactivation", "t": 1.75, "i": 0.952}]},
      "mark": {"type": "text", "align": "right", "baseline": "alphabetic", "dy": 4, "font": "DejaVu Sans", "fontSize": 19, "color": "black"},
      "encoding": {"text": {"field": "label"}}
    },
    {
      "data": {"values": [{"label": "BBP Channelpedia ID 29350 rep 1", "t": 1.792, "i": -0.067}]},
      "mark": {"type": "text", "angle": 270, "align": "center", "baseline": "middle", "font": "DejaVu Sans", "fontSize": 14, "color": "black"},
      "encoding": {"text": {"field": "label"}}
    }
  ]
}
